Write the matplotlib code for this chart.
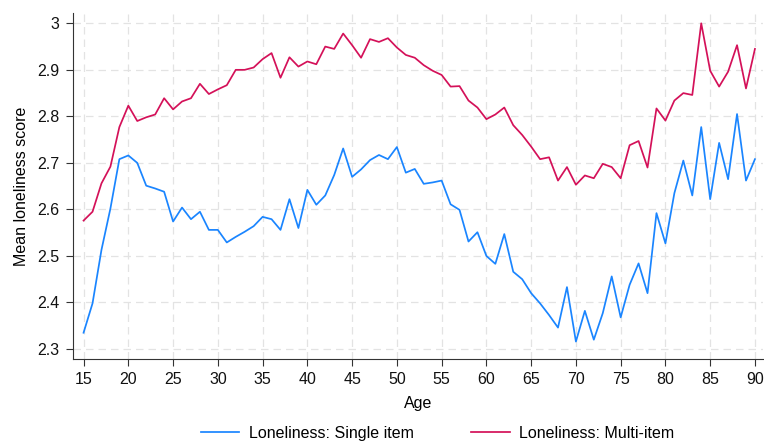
import matplotlib
matplotlib.use("Agg")
import matplotlib.pyplot as plt

plt.rcParams['font.family'] = ['Liberation Sans', 'DejaVu Sans']

ages = list(range(15, 91))

single_item = [
    2.335, 2.398, 2.513, 2.602, 2.708, 2.716, 2.700, 2.651, 2.645, 2.638,
    2.574, 2.604, 2.579, 2.595, 2.556, 2.556, 2.529, 2.541, 2.552, 2.564,
    2.584, 2.579, 2.556, 2.622, 2.560, 2.642, 2.610, 2.630, 2.674, 2.731,
    2.670, 2.686, 2.706, 2.717, 2.708, 2.734, 2.679, 2.687, 2.655, 2.658,
    2.662, 2.611, 2.599, 2.531, 2.551, 2.500, 2.483, 2.547, 2.466, 2.450,
    2.420, 2.398, 2.373, 2.346, 2.433, 2.316, 2.382, 2.320, 2.377, 2.456,
    2.368, 2.438, 2.484, 2.420, 2.592, 2.527, 2.635, 2.705, 2.630, 2.777,
    2.622, 2.743, 2.665, 2.805, 2.662, 2.708,
]

multi_item = [
    2.576, 2.595, 2.656, 2.692, 2.777, 2.823, 2.790, 2.798, 2.804, 2.839,
    2.815, 2.832, 2.839, 2.870, 2.848, 2.858, 2.867, 2.900, 2.900, 2.905,
    2.923, 2.936, 2.883, 2.927, 2.907, 2.918, 2.912, 2.950, 2.945, 2.978,
    2.953, 2.926, 2.966, 2.960, 2.968, 2.948, 2.932, 2.926, 2.910, 2.898,
    2.889, 2.864, 2.865, 2.834, 2.819, 2.794, 2.804, 2.819, 2.781, 2.760,
    2.735, 2.708, 2.712, 2.662, 2.691, 2.653, 2.673, 2.667, 2.698, 2.691,
    2.667, 2.738, 2.747, 2.690, 2.817, 2.791, 2.834, 2.850, 2.846, 3.000,
    2.898, 2.864, 2.896, 2.953, 2.860, 2.945,
]

x_ticks = list(range(15, 91, 5))
y_ticks = [2.3, 2.4, 2.5, 2.6, 2.7, 2.8, 2.9, 3.0]
y_tick_labels = ["2.3", "2.4", "2.5", "2.6", "2.7", "2.8", "2.9", "3"]

W, H = 764, 441
fig = plt.figure(figsize=(W / 100, H / 100), dpi=100)
ax = fig.add_axes([73 / W, (H - 359) / H, (763 - 73) / W, (359 - 12.7) / H])

ax.plot(ages, single_item, color='#1a85ff', lw=1.25, label='Loneliness: Single item')
ax.plot(ages, multi_item, color='#d41159', lw=1.25, label='Loneliness: Multi-item')

ax.set_xlim(13.82, 90.9)
ax.set_ylim(2.2785, 3.0228)
ax.set_xticks(x_ticks)
ax.set_yticks(y_ticks)
ax.set_yticklabels(y_tick_labels)
ax.tick_params(labelsize=11.5, length=5, pad=4.5, color='#333333', labelcolor='#111111')
ax.grid(True, color='#e3e3e3', ls=(0, (6, 4)), lw=0.9)
ax.set_axisbelow(True)
for s in ['top', 'right']:
    ax.spines[s].set_visible(False)
for s in ['left', 'bottom']:
    ax.spines[s].set_color('#333333')

ax.set_xlabel('Age', fontsize=11.5, labelpad=6)
ax.set_ylabel('Mean loneliness score', fontsize=11.5, labelpad=6)

fig.legend(loc='center', bbox_to_anchor=(0.573, 0.017), ncol=2, frameon=False,
           fontsize=11.5, handlelength=2.4, handletextpad=0.6, columnspacing=3.6)

fig.savefig('out.png', dpi=100)
